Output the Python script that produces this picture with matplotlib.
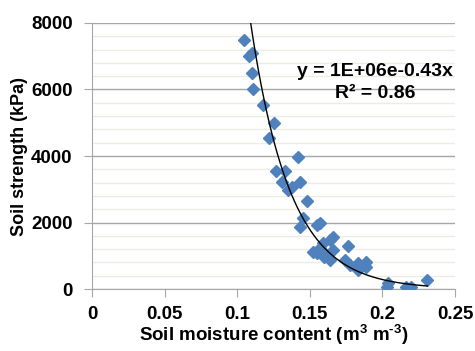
import numpy as np
import matplotlib.pyplot as plt

plt.rcParams['font.family'] = 'Liberation Sans'
plt.rcParams['font.weight'] = 'bold'
plt.rcParams['mathtext.fontset'] = 'custom'
plt.rcParams['mathtext.rm'] = 'Liberation Sans:bold'
plt.rcParams['mathtext.bf'] = 'Liberation Sans:bold'

# soil moisture (m3 m-3) and soil strength (kPa)
moisture = [0.105, 0.108, 0.110, 0.110, 0.111, 0.118, 0.125, 0.122, 0.142, 0.127,
            0.133, 0.131, 0.143, 0.135, 0.138, 0.148, 0.145, 0.143, 0.155, 0.157,
            0.166, 0.164, 0.159, 0.176, 0.157, 0.155, 0.166, 0.164, 0.160, 0.174,
            0.178, 0.183, 0.189, 0.189, 0.183, 0.204, 0.203, 0.216, 0.220, 0.231,
            0.162, 0.152]
strength = [7500, 7000, 7100, 6500, 6000, 5530, 5000, 4540, 3970, 3550,
            3550, 3220, 3220, 2980, 3070, 2650, 2130, 1850, 1920, 1990,
            1560, 1470, 1380, 1300, 1230, 1080, 1170, 870, 960, 870,
            720, 780, 810, 660, 570, 180, 60, 60, 60, 270,
            1020, 1100]
eq_text = 'y = 1E+06e-0.43x'
r2_text = 'R² = 0.86'

x = np.array(moisture)
y = np.array(strength)
b, ln_a = np.polyfit(x, np.log(y), 1)
xf = np.linspace(x.min(), x.max(), 200)
yf = np.exp(ln_a) * np.exp(b * xf)

fig = plt.figure(figsize=(4.75, 3.51), dpi=100)
ax = fig.add_axes([0.1937, 0.1766, 0.7642, 0.7579])

ax.set_yticks(np.arange(0, 8001, 400), minor=True)
ax.set_yticks(np.arange(0, 8001, 2000))
ax.set_xticks(np.arange(0, 0.2501, 0.05))
ax.set_xticklabels(['0', '0.05', '0.1', '0.15', '0.2', '0.25'])
ax.grid(axis='y', which='minor', color='#EEECE1', lw=1)
ax.grid(axis='y', which='major', color='#A6A6A6', lw=1)
ax.set_axisbelow(True)

ax.plot(x, y, 'D', color='#4F81BD', ms=6.2, mec='#4F81BD', zorder=3)
ax.plot(xf, yf, color='black', lw=1, zorder=4)

ax.set_xlim(0, 0.25)
ax.set_ylim(0, 8000)
for s in ['top', 'right']:
    ax.spines[s].set_visible(False)
for s in ['left', 'bottom']:
    ax.spines[s].set_color('#A6A6A6')
ax.tick_params(axis='both', which='major', length=6, color='#A6A6A6', labelsize=13.5)
ax.tick_params(axis='y', pad=8)
ax.tick_params(axis='x', pad=6)
ax.tick_params(axis='y', which='minor', length=0)

ax.set_xlabel('Soil moisture content (m$^{3}$ m$^{\u20103}$)',
              fontsize=13.5, fontweight='bold', labelpad=0)
ax.set_ylabel('Soil strength (kPa)', fontsize=13, fontweight='bold', labelpad=2)

ax.text(0.1946, 6556, eq_text, fontsize=14, fontweight='bold', ha='center', va='center')
ax.text(0.1949, 5865, r2_text, fontsize=14, fontweight='bold', ha='center', va='center')

fig.savefig('out.png', dpi=100)
